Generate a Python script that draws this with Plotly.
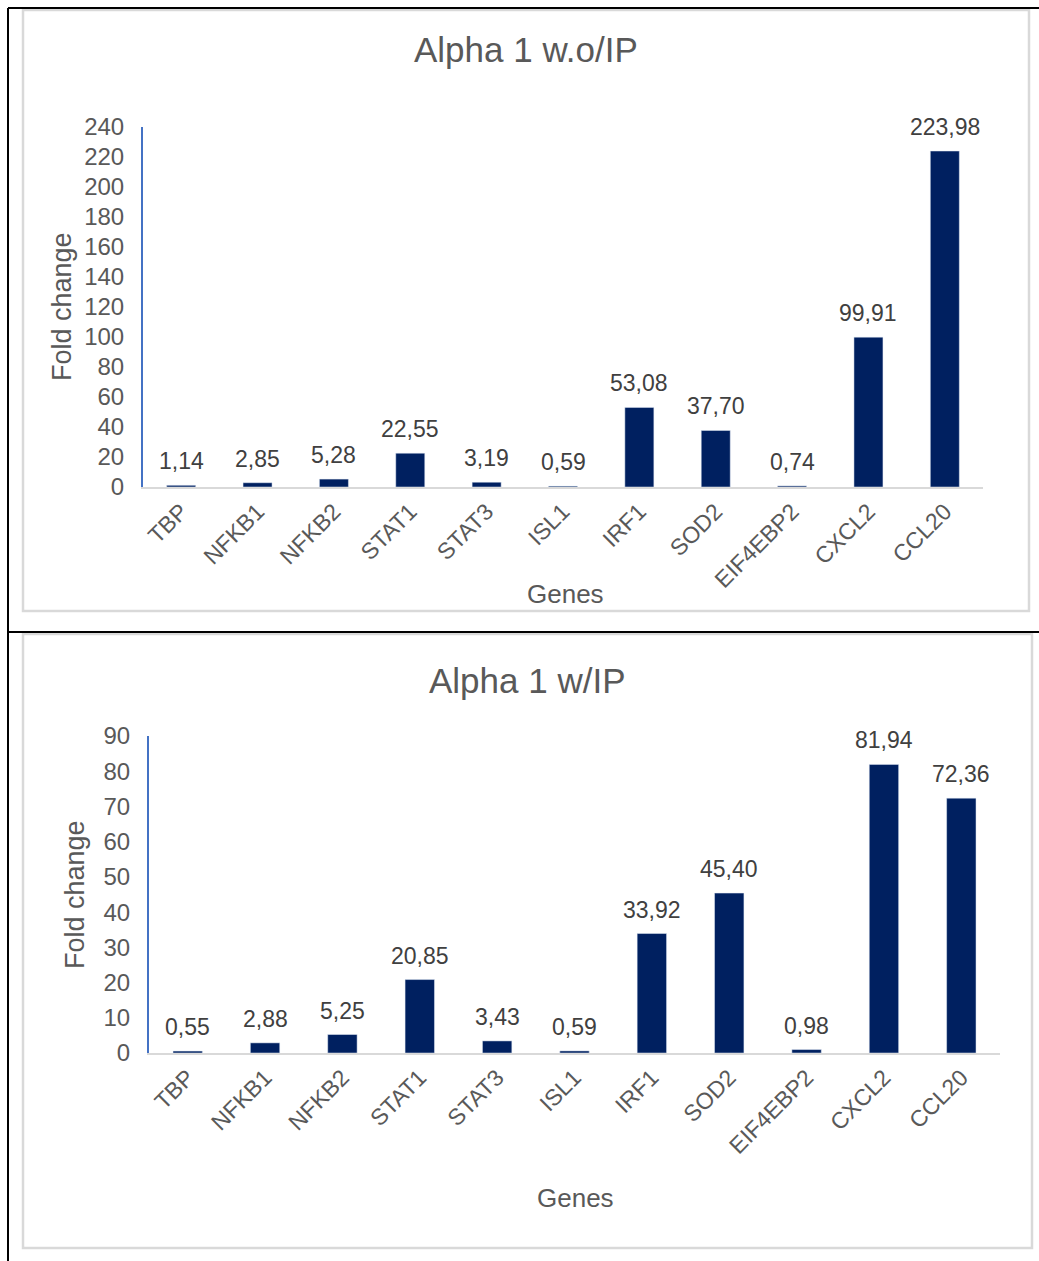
import plotly.graph_objects as go

W, H = 1039, 1261

genes = ["TBP", "NFKB1", "NFKB2", "STAT1", "STAT3", "ISL1", "IRF1",
         "SOD2", "EIF4EBP2", "CXCL2", "CCL20"]
fold_without_ip = [1.14, 2.85, 5.28, 22.55, 3.19, 0.59, 53.08, 37.70, 0.74, 99.91, 223.98]
fold_with_ip = [0.55, 2.88, 5.25, 20.85, 3.43, 0.59, 33.92, 45.40, 0.98, 81.94, 72.36]

title_top = "Alpha 1 w.o/IP"
title_bottom = "Alpha 1 w/IP"
y_title = "Fold change"
x_title = "Genes"

FONT = "Liberation Sans, Arial, sans-serif"
BAR = "#002060"
TXT = "#595959"
LBL = "#404040"


def px(x):
    return x / W


def py(y):
    return 1 - y / H


def label(v):
    return f"{v:.2f}".replace(".", ",")


fig = go.Figure()
for vals, xa, ya in [(fold_without_ip, "x", "y"), (fold_with_ip, "x2", "y2")]:
    fig.add_trace(go.Bar(x=genes, y=vals, marker_color=BAR, width=0.38,
                         xaxis=xa, yaxis=ya, showlegend=False, hoverinfo="x+y"))
    # value labels sitting a little above each bar
    for g, v in zip(genes, vals):
        fig.add_annotation(x=g, y=v, xref=xa, yref=ya, text=label(v),
                           xanchor="center", yanchor="bottom", yshift=9,
                           showarrow=False, font=dict(size=23, color=LBL, family=FONT))

xcommon = dict(showline=True, linecolor="#d9d9d9", linewidth=2, showgrid=False,
               zeroline=False, tickangle=-45, ticks="", automargin=False,
               tickfont=dict(size=23, color=TXT, family=FONT), range=[-0.5, 10.5])
ycommon = dict(showline=True, linecolor="#4472c4", linewidth=2, showgrid=False,
               zeroline=False, ticks="", ticklabelstandoff=12, automargin=False,
               tickfont=dict(size=24, color=TXT, family=FONT))

fig.update_layout(
    width=W, height=H, autosize=False,
    margin=dict(l=0, r=0, t=0, b=0, pad=0, autoexpand=False),
    paper_bgcolor="white", plot_bgcolor="white",
    font=dict(family=FONT, color=TXT),
    xaxis=dict(domain=[px(143), px(983)], anchor="y", **xcommon),
    yaxis=dict(domain=[py(487), py(127)], anchor="x", range=[0, 240], dtick=20, **ycommon),
    xaxis2=dict(domain=[px(149), px(1000)], anchor="y2", **xcommon),
    yaxis2=dict(domain=[py(1053), py(736)], anchor="x2", range=[0, 90], dtick=10, **ycommon),
)

# chart titles and axis titles
ann = [
    (title_top, 526, 50, 0, 35),
    (title_bottom, 527, 680, 0, 35),
    (y_title, 62, 307, -90, 27),
    (y_title, 75, 895, -90, 27),
    (x_title, 565, 594, 0, 26),
    (x_title, 575, 1198, 0, 26),
]
for text, x, y, ang, size in ann:
    fig.add_annotation(text=text, x=px(x), y=py(y), xref="paper", yref="paper",
                       xanchor="center", yanchor="middle", textangle=ang,
                       showarrow=False, font=dict(size=size, color=TXT, family=FONT))

shapes = []
# light gray chart-area frames
for x0, y0, x1, y1 in [(23, 10, 1029, 611), (23, 634, 1032, 1248)]:
    shapes.append(dict(type="rect", xref="paper", yref="paper",
                       x0=px(x0), y0=py(y1), x1=px(x1), y1=py(y0),
                       line=dict(color="#d9d9d9", width=2.5), fillcolor="rgba(0,0,0,0)",
                       layer="below"))
# black table borders
for x0, y0, x1, y1 in [(8, 8, 1039, 8), (8, 632, 1039, 632), (8, 8, 8, 1261)]:
    shapes.append(dict(type="line", xref="paper", yref="paper",
                       x0=px(x0), y0=py(y0), x1=px(x1), y1=py(y1),
                       line=dict(color="black", width=2)))
fig.update_layout(shapes=shapes)

fig.write_html("out.html")
